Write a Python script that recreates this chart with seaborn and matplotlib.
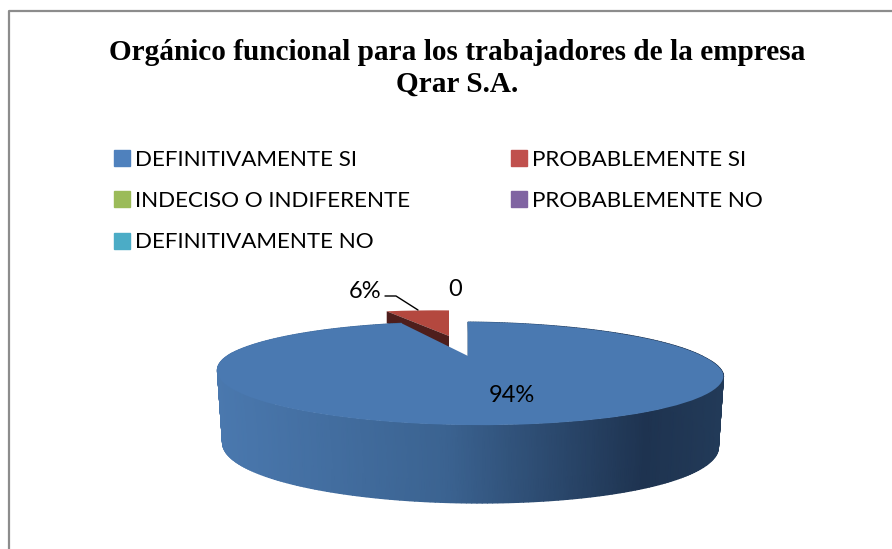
import numpy as np
import matplotlib
matplotlib.use('Agg')
import matplotlib.pyplot as plt
import matplotlib.transforms as mtransforms
from matplotlib.colors import LinearSegmentedColormap
import seaborn as sns

# datos del grafico
categorias = ['DEFINITIVAMENTE SI', 'PROBABLEMENTE SI', 'INDECISO O INDIFERENTE',
              'PROBABLEMENTE NO', 'DEFINITIVAMENTE NO']
valores = [94, 6, 0, 0, 0]
etiquetas = ['94%', '6%', '0']
titulo = 'Orgánico funcional para los trabajadores de la empresa\nQrar S.A.'
colores_leyenda = ['#4F81BD', '#C0504D', '#9BBB59', '#8064A2', '#4BACC6']
colores_pie = ['#4A79B1', '#B4483F', '#9BBB59', '#8064A2', '#4BACC6']

sns.set_theme(style='white')
plt.rcParams['font.family'] = ['Lato', 'DejaVu Sans']


class Perspectiva(mtransforms.Transform):
    # circulo unitario -> pixeles, con la parte de atras mas chica
    input_dims = 2
    output_dims = 2

    def __init__(self, ev=0.0, dx=0.0, su=1.0):
        super().__init__()
        self.ev = ev
        self.dx = dx
        self.su = su

    def transform_non_affine(self, xy):
        xy = np.asarray(xy)
        u = xy[:, 0] * self.su
        v = xy[:, 1] + self.ev
        w = 1 + 0.34 * v
        corr = 2.5 * np.clip(-v / 0.34, 0, 1)
        return np.column_stack([468 + self.dx + corr + 238 * u / w,
                                356 + 2 * u / w - 45.6 * v / w])


fig = plt.figure(figsize=(8.92, 5.49), dpi=100)
ax = fig.add_axes([0, 0, 1, 1])

wedges = ax.pie(valores, startangle=90, counterclock=False, colors=colores_pie,
                wedgeprops={'linewidth': 0})[0]
ax.set_aspect('auto')
ax.set_xlim(0, 892)
ax.set_ylim(549, 0)
ax.set_axis_off()

# marco del grafico, solo arriba e izquierda
ax.plot([8.5, 8.5, 892], [549, 10.5, 10.5], color='#8C8C8C', lw=1.6, zorder=0, clip_on=False)

per_azul = Perspectiva()
per_rojo = Perspectiva(ev=0.515, dx=-19, su=1.06)
wedges[0].set_transform(per_azul + ax.transData)
wedges[1].set_transform(per_rojo + ax.transData)
wedges[0].set_zorder(5)
wedges[1].set_zorder(3)

# pared lateral del sector azul
ang = np.radians(np.linspace(wedges[0].theta1, wedges[0].theta2, 400))
borde = per_azul.transform(np.column_stack([np.cos(ang), np.sin(ang)]))
grosor = 68 - 10 * np.sin(ang)
X = np.vstack([borde[:, 0], 470.5 + (borde[:, 0] - 470.5) * 0.98])
Y = np.vstack([borde[:, 1], borde[:, 1] + grosor])
C = np.vstack([borde[:, 0], borde[:, 0]])
cmap = LinearSegmentedColormap.from_list('pared', [(0, '#4A78AE'), (0.45, '#3B6391'),
                                                   (0.85, '#1E3350'), (1, '#223A58')])
ax.pcolormesh(X, Y, C, cmap=cmap, shading='gouraud', vmin=217, vmax=724, zorder=4)

# pared del sector rojo, la tapa el azul
ang_r = np.radians(wedges[1].theta2)
lado = per_rojo.transform(np.array([[np.cos(ang_r), np.sin(ang_r)], [0, 0]]))
ax.fill([lado[0, 0], lado[1, 0], lado[1, 0], lado[0, 0]],
        [lado[0, 1], lado[1, 1], lado[1, 1] + 12, lado[0, 1] + 12],
        color='#4E1E1C', zorder=3.5, lw=0)

# corte fino junto al sector azul
ax.plot([468, 468], [322, 356], color='#1E3350', lw=0.8, zorder=4.5)

# lider de la etiqueta 6%
ax.plot([385, 396, 418], [296, 296, 310], color='black', lw=1, zorder=6)

ax.text(512, 395, etiquetas[0], ha='center', va='center', fontsize=17, color='black', zorder=7)
ax.text(365, 291, etiquetas[1], ha='center', va='center', fontsize=17, color='black', zorder=7)
ax.text(455, 290, etiquetas[2], ha='center', va='center', fontsize=17, color='black', zorder=7)

ax.text(457, 68.5, titulo, ha='center', va='center', fontsize=21.1, fontweight='bold',
        family=['Liberation Serif'], color='black', linespacing=1.22)

# leyenda en dos columnas, se llena por columna
orden = [0, 2, 4, 1, 3]
cuadros = [plt.Rectangle((0, 0), 1, 1, color=colores_leyenda[i]) for i in orden]
ax.legend(cuadros, [categorias[i] for i in orden], ncol=2, frameon=False, fontsize=16.1,
          loc='upper left', bbox_to_anchor=(114 / 892, 1 - 149.5 / 549),
          handlelength=0.72, handleheight=0.72, handletextpad=0.22, labelspacing=0.96,
          columnspacing=4.5, labelcolor='black', borderaxespad=0, borderpad=0)

fig.savefig('out.png', dpi=100)
